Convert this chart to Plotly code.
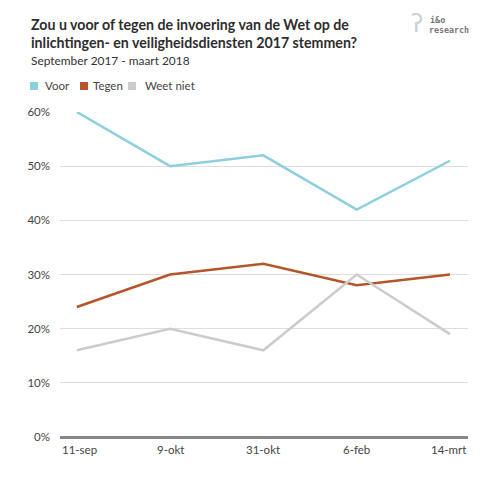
import plotly.graph_objects as go

categories = ["11-sep", "9-okt", "31-okt", "6-feb", "14-mrt"]
voor = [60, 50, 52, 42, 51]
tegen = [24, 30, 32, 28, 30]
weet_niet = [16, 20, 16, 30, 19]
y_ticks = [0, 10, 20, 30, 40, 50, 60]

series = [
    ("Voor", voor, "#8CCFDE"),
    ("Tegen", tegen, "#B4552A"),
    ("Weet niet", weet_niet, "#CCCCCC"),
]

FONT = "Lato"
W, H = 500, 481
OFF = 8  # page body margin
# plot area in screen pixels: x 60..468, y 112..437
L = 60 - OFF
R = W - (468 - OFF)
T = 112 - OFF
B = H - (437 - OFF)
PW, PH = W - L - R, H - T - B


def px(xs_):
    return (xs_ - OFF - L) / PW


def py(ys_):
    return (H - B - (ys_ - OFF)) / PH


xs = list(range(len(categories)))

fig = go.Figure()
for name, vals, col in series:
    fig.add_trace(go.Scatter(x=xs, y=vals, mode="lines", name=name,
                             line=dict(color=col, width=2.5),
                             showlegend=False, hoverinfo="skip"))

annotations = []
for i, lab in enumerate(categories):
    if i == 0:
        a = dict(xref="paper", x=0, xanchor="left")
    elif i == len(categories) - 1:
        a = dict(xref="paper", x=1, xanchor="right")
    else:
        a = dict(xref="x", x=i, xanchor="center")
    a.update(text=lab, yref="paper", y=py(449), yanchor="middle",
             showarrow=False, font=dict(family=FONT, size=11.5, color="#444"))
    annotations.append(a)

# legend (squares + labels)
shapes = []
legend_pos = [(30, 43), (80, 91), (128, 143)]
for (name, _, col), (sx, tx) in zip(series, legend_pos):
    shapes.append(dict(type="rect", xref="paper", yref="paper",
                       x0=px(sx), x1=px(sx + 8), y0=py(90), y1=py(82),
                       fillcolor=col, line=dict(width=0)))
    annotations.append(dict(text=name, xref="paper", yref="paper", x=px(tx), y=py(86),
                            xanchor="left", yanchor="middle", showarrow=False,
                            font=dict(family=FONT, size=11.5, color="#444")))

annotations += [
    dict(text="<b>Zou u voor of tegen de invoering van de Wet op de<br>inlichtingen- en veiligheidsdiensten 2017 stemmen?</b>",
         xref="paper", yref="paper", x=px(29), y=py(33.5), xanchor="left", yanchor="middle",
         align="left", showarrow=False, font=dict(family=FONT, size=14.2, color="#2E2E2E")),
    dict(text="September 2017 - maart 2018",
         xref="paper", yref="paper", x=px(29), y=py(61), xanchor="left", yanchor="middle",
         align="left", showarrow=False, font=dict(family=FONT, size=11.9, color="#333")),
    dict(text="<b>i&o</b>",
         xref="paper", yref="paper", x=px(428), y=py(20), xanchor="left", yanchor="middle",
         showarrow=False, font=dict(family="DejaVu Sans Mono", size=8.5, color="#777")),
    dict(text="<b>research</b>",
         xref="paper", yref="paper", x=px(427), y=py(29.5), xanchor="left", yanchor="middle",
         showarrow=False, font=dict(family="DejaVu Sans Mono", size=8.3, color="#777")),
    dict(text="ʔ",
         xref="paper", yref="paper", x=px(417), y=py(24), xanchor="center", yanchor="middle",
         showarrow=False, font=dict(family="DejaVu Sans", size=24, color="#C3D5CD")),
]

fig.update_layout(
    width=W, height=H,
    margin=dict(l=L, r=R, t=T, b=B, autoexpand=False),
    paper_bgcolor="white", plot_bgcolor="white",
    showlegend=False,
    xaxis=dict(range=[-0.18, 4.193], showticklabels=False, showgrid=False,
               zeroline=False, fixedrange=True),
    yaxis=dict(range=[0, 60], tickvals=y_ticks, ticktext=[f"{v}%" for v in y_ticks],
               showgrid=True, gridcolor="#DEDEDE", gridwidth=1,
               zeroline=True, zerolinecolor="#888", zerolinewidth=2.5,
               ticks="", ticklabelstandoff=9,
               tickfont=dict(family=FONT, size=11.5, color="#444")),
    annotations=annotations,
    shapes=shapes,
)

fig.write_html("out.html")
